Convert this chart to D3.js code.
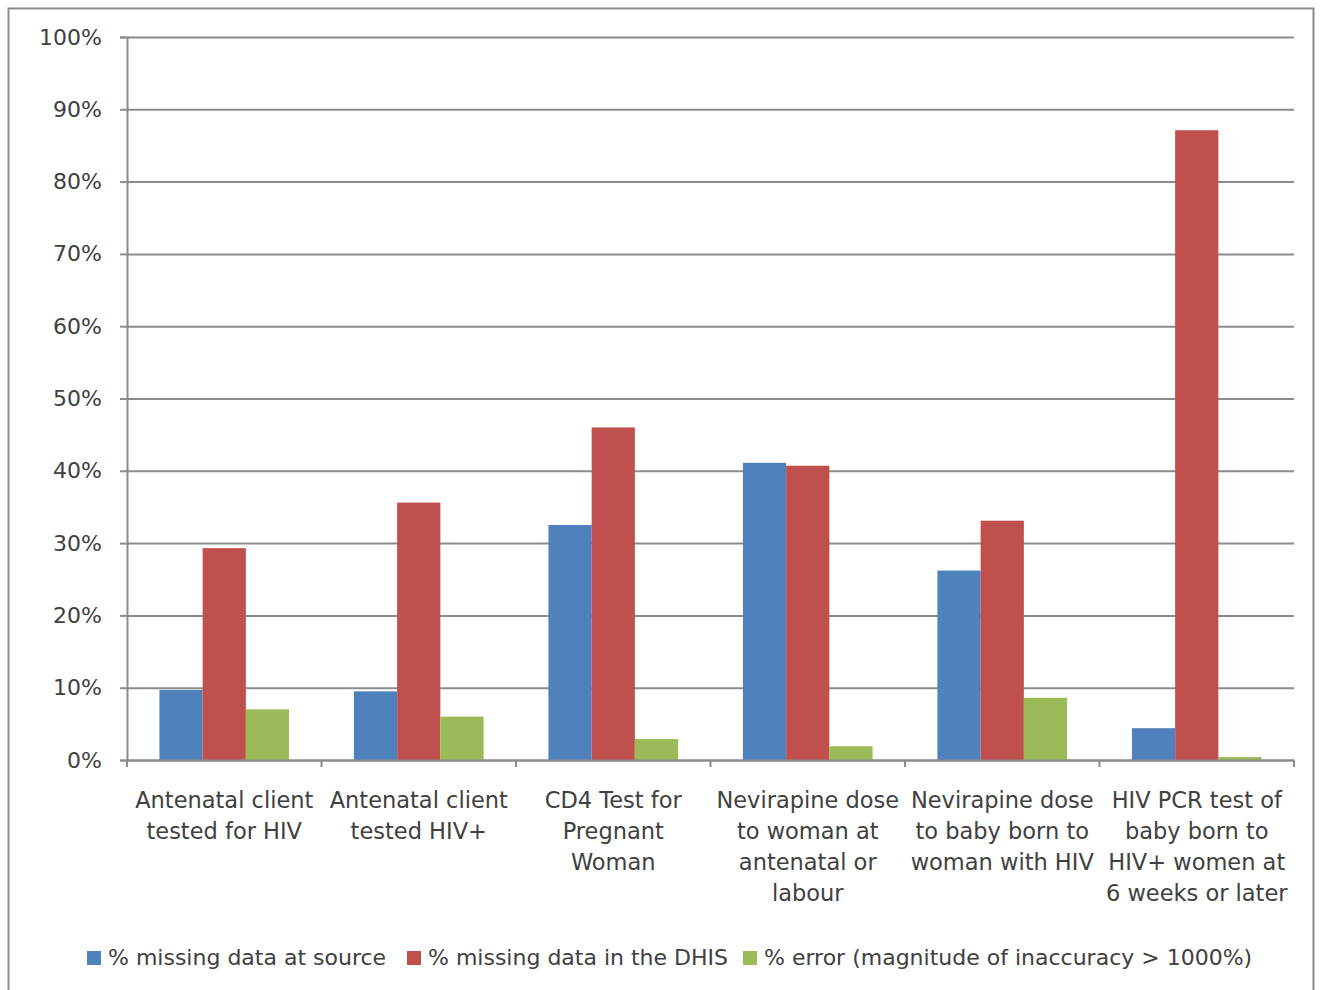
<!DOCTYPE html>
<html>
<head>
<style>
  body { margin: 0; background: #fff; }
  text { font-family: "DejaVu Sans", Verdana, sans-serif; fill: #404040; }
</style>
</head>
<body>
</body>
<script src="https://cdnjs.cloudflare.com/ajax/libs/d3/7.8.5/d3.min.js"></script>
<script>
// categories, each split into the lines shown under the axis
var categories = ["Antenatal client tested for HIV", "Antenatal client tested HIV+", "CD4 Test for Pregnant Woman",
                  "Nevirapine dose to woman at antenatal or labour", "Nevirapine dose to baby born to woman with HIV",
                  "HIV PCR test of baby born to HIV+ women at 6 weeks or later"];
var categoryLines = [
    ["Antenatal client", "tested for HIV"],
    ["Antenatal client", "tested HIV+"],
    ["CD4 Test for", "Pregnant", "Woman"],
    ["Nevirapine dose", "to woman at", "antenatal or", "labour"],
    ["Nevirapine dose", "to baby born to", "woman with HIV"],
    ["HIV PCR test of", "baby born to", "HIV+ women at", "6 weeks or later"]
];
var seriesNames = ["% missing data at source", "% missing data in the DHIS", "% error (magnitude of inaccuracy > 1000%)"];
var seriesColors = ["#4f81bd", "#c0504d", "#9bbb59"];
var missingSource = [9.7, 9.5, 32.5, 41.1, 26.2, 4.4];
var missingDhis = [29.3, 35.6, 46.0, 40.7, 33.1, 87.1];
var errorPct = [7.0, 6.0, 2.9, 1.9, 8.6, 0.4];
var yTicks = [0, 10, 20, 30, 40, 50, 60, 70, 80, 90, 100];

var seriesValues = [missingSource, missingDhis, errorPct];

var svg = d3.select("body").append("svg")
            .attr("width", 1321)
            .attr("height", 990);

// outer chart border
svg.append("rect")
   .attr("x", 8.5).attr("y", 8.5)
   .attr("width", 1305).attr("height", 1000)
   .attr("fill", "none")
   .attr("stroke", "#8c8c8c")
   .attr("stroke-width", 2);

// plot area edges (not named top/left: window.top is read-only)
var plotL = 127, plotR = 1294, plotT = 37, plotB = 760;

var y = d3.scaleLinear().domain([0, 100]).range([plotB, plotT]);
var x0 = d3.scaleBand().domain(categories).range([plotL, plotR]).padding(0);
// Excel gap width 50% -> 0.75 bar of outer padding each side
var x1 = d3.scaleBand().domain(seriesNames).range([0, x0.bandwidth()]).paddingInner(0).paddingOuter(0.75);

// gridlines + y axis
var yAxis = d3.axisLeft(y).tickValues(yTicks).tickSize(7).tickPadding(18)
              .tickFormat(function (d) { return d + "%"; });
var gy = svg.append("g").attr("transform", "translate(" + plotL + ",0)").call(yAxis);
gy.select(".domain").attr("stroke", "#8c8c8c").attr("stroke-width", 2);
gy.selectAll(".tick line").attr("stroke", "#8c8c8c").attr("stroke-width", 2);
gy.selectAll(".tick text").style("font-size", "22px").attr("fill", "#404040");
gy.selectAll(".tick").append("line")
  .attr("x1", 0).attr("x2", plotR - plotL)
  .attr("stroke", "#8c8c8c").attr("stroke-width", 2);

// bars
for (var s = 0; s < seriesValues.length; s++) {
    svg.append("g").selectAll("rect")
       .data(seriesValues[s])
       .enter().append("rect")
       .attr("x", function (d, i) { return x0(categories[i]) + x1(seriesNames[s]); })
       .attr("y", function (d) { return y(d); })
       .attr("width", x1.bandwidth())
       .attr("height", function (d) { return y(0) - y(d); })
       .attr("fill", seriesColors[s]);
}

// x axis
var xAxis = d3.axisBottom(x0).tickSize(0).tickFormat("");
var gx = svg.append("g").attr("transform", "translate(0," + plotB + ")").call(xAxis);
gx.select(".domain").attr("stroke", "#8c8c8c").attr("stroke-width", 2);
// boundary ticks between categories
var bounds = categories.map(function (c) { return x0(c); }).concat([plotR]);
gx.selectAll("line.bound").data(bounds).enter().append("line")
  .attr("class", "bound")
  .attr("x1", function (d) { return d; }).attr("x2", function (d) { return d; })
  .attr("y1", 0).attr("y2", 7)
  .attr("stroke", "#8c8c8c").attr("stroke-width", 2);

// category labels
var labels = svg.append("g").selectAll("text")
   .data(categories)
   .enter().append("text")
   .attr("text-anchor", "middle")
   .attr("x", function (d) { return x0(d) + x0.bandwidth() / 2; })
   .attr("y", 808)
   .style("font-size", "22.5px");
labels.each(function (d, i) {
    var t = d3.select(this);
    categoryLines[i].forEach(function (line, j) {
        t.append("tspan")
         .attr("x", x0(d) + x0.bandwidth() / 2)
         .attr("dy", j === 0 ? 0 : 31)
         .text(line);
    });
});

// legend
var legendX = [87, 407, 743];
var legend = svg.append("g").selectAll("g")
   .data(seriesNames)
   .enter().append("g")
   .attr("transform", function (d, i) { return "translate(" + legendX[i] + ",951)"; });
legend.append("rect")
      .attr("width", 14).attr("height", 14)
      .attr("fill", function (d, i) { return seriesColors[i]; });
legend.append("text")
      .attr("x", 21).attr("y", 14)
      .style("font-size", "22px")
      .text(function (d) { return d; });
</script>
</html>
